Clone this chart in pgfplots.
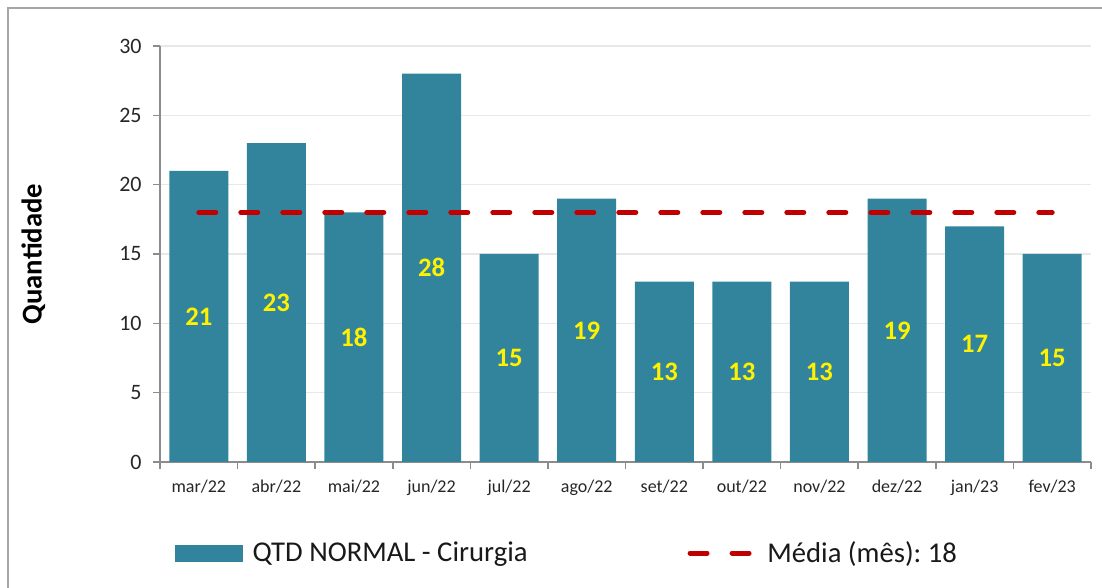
\documentclass[border=0pt]{standalone}
\usepackage{pgfplots}
\pgfplotsset{compat=1.18}
\usepackage{pgfplotstable}
\usepackage{fontspec}
\setmainfont{Carlito}
\frenchspacing
\definecolor{barteal}{HTML}{31849B}
\definecolor{avgred}{HTML}{C00000}
\definecolor{axgray}{HTML}{8C8C8C}
\definecolor{ticktxt}{HTML}{262626}
\pgfplotstableread{
x val
0 21
1 23
2 18
3 28
4 15
5 19
6 13
7 13
8 13
9 19
10 17
11 15
}\datatab
\begin{document}
\begin{tikzpicture}
\path[use as bounding box] (0pt,0pt) rectangle (826.5pt,441pt);
\draw[color=gray!70, line width=1.5pt] (6pt,0pt) -- (6pt,435pt) -- (826.5pt,435pt);
\begin{axis}[
  at={(120pt,94.5pt)}, anchor=south west,
  scale only axis,
  width=698.25pt, height=312pt,
  xmin=-0.5, xmax=11.5, ymin=0, ymax=30,
  axis x line*=bottom, axis y line*=left,
  axis line style={axgray, line width=1.2pt, -},
  ytick={0,5,...,30},
  xtick={0,...,11},
  xticklabels={mar/22,abr/22,mai/22,jun/22,jul/22,ago/22,set/22,out/22,nov/22,dez/22,jan/23,fev/23},
  minor xtick={-0.5,0.5,...,11.5},
  tick align=outside,
  major tick length=5.25pt,
  minor tick length=5.25pt,
  every major x tick/.append style={draw=none},
  every minor x tick/.append style={axgray, line width=1.2pt},
  every major y tick/.append style={axgray, line width=1.2pt},
  ymajorgrids,
  grid style={gray!18, line width=0.8pt},
  /pgf/number format/assume math mode=true,
  yticklabel style={font=\fontsize{16.5}{20}\selectfont, text=ticktxt, xshift=-5pt},
  xticklabel style={font=\fontsize{13.5}{16}\selectfont, text=ticktxt, yshift=-5pt},
  ylabel={Quantidade},
  every axis y label/.style={at={(axis description cs:-0.136,0.5)}, rotate=90, anchor=center, font=\fontsize{21.5}{26}\bfseries\selectfont},
  legend columns=2,
  legend style={draw=none, fill=none, at={(axis description cs:0.0161,-0.219)}, anchor=west,
    font=\fontsize{21.5}{26}\selectfont, inner sep=0pt,
    /tikz/every even column/.append style={column sep=120pt},
    nodes={inner sep=0pt, text=black!90}},
]
\addplot[ybar, bar width=44.25pt, fill=barteal, draw=none,
  legend image code/.code={\fill[barteal] (0pt,-6.4pt) rectangle (51pt,6.4pt); \path (58pt,0pt);}]
  table[x=x, y=val] {\datatab};
\addlegendentry{QTD NORMAL - Cirurgia}
\addplot[avgred, line width=3.75pt, line cap=round, dash pattern=on 12.75pt off 18.75pt,
  legend image code/.code={\draw[avgred, line width=3.75pt, line cap=round, dash pattern=on 12.75pt off 18.75pt] (1.9pt,0pt) -- (46.9pt,0pt); \path (58pt,0pt);}]
  coordinates {(0,18) (1,18) (2,18) (3,18) (4,18) (5,18) (6,18) (7,18) (8,18) (9,18) (10,18) (11,18)};
\addlegendentry{Média (mês): 18}
\addplot[draw=none, mark=none, forget plot, nodes near coords, point meta=explicit,
  every node near coord/.append style={anchor=center, text=yellow, font=\fontsize{20}{24}\bfseries\selectfont}]
  table[x=x, y expr=\thisrow{val}/2, meta=val] {\datatab};
\end{axis}
\end{tikzpicture}
\end{document}
